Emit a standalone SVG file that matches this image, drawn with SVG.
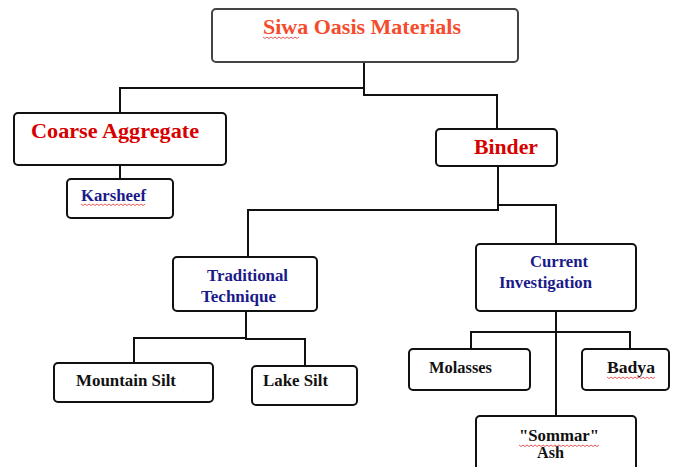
<svg xmlns="http://www.w3.org/2000/svg" width="677" height="467" viewBox="0 0 677 467">
<style>
.box{fill:#fff;stroke:#111;stroke-width:2}
.top{stroke:#444}
.t{font-family:"Liberation Serif","Times New Roman",serif;font-weight:bold}
.red{fill:#d60000;font-size:22px}
.org{fill:#f64b2c;font-size:22px}
.navy{fill:#1a1a8a;font-size:16px}
.blk{fill:#111;font-size:16px}
.conn{fill:none;stroke:#111;stroke-width:2}
.sq{fill:none;stroke:#e03030;stroke-width:0.8}
</style>
<rect width="677" height="467" fill="#fff"/>
<g id="connectors">
<polyline class="conn" points="364,62 364,88 120,88 120,113"/>
<polyline class="conn" points="364,88 364,95 497,95 497,129"/>
<line class="conn" x1="120" y1="165" x2="120" y2="179"/>
<polyline class="conn" points="498,166 498,210 248,210 248,257"/>
<polyline class="conn" points="498,205 556,205 556,244"/>
<polyline class="conn" points="246,311 246,338 134,338 134,363"/>
<polyline class="conn" points="246,338 246,339 305,339 305,366"/>
<line class="conn" x1="556" y1="311" x2="556" y2="416"/>
<polyline class="conn" points="471,349 471,332 630,332 630,349"/>
</g>
<g id="siwa">
<rect class="box top" x="212" y="9" width="306" height="53" rx="4"/>
<text class="t org" x="263" y="34" textLength="198" lengthAdjust="spacingAndGlyphs">Siwa Oasis Materials</text>
<path class="sq" d="M263,37 l2,1.5 l2,-1.5 l2,1.5 l2,-1.5 l2,1.5 l2,-1.5 l2,1.5 l2,-1.5 l2,1.5 l2,-1.5 l2,1.5 l2,-1.5 l2,1.5 l2,-1.5 l2,1.5 l2,-1.5 l2,1.5 l2,-1.5"/>
</g>
<g id="coarse">
<rect class="box" x="14" y="113" width="212" height="52" rx="4"/>
<text class="t red" x="31" y="138" textLength="168" lengthAdjust="spacingAndGlyphs">Coarse Aggregate</text>
</g>
<g id="karsheef">
<rect class="box" x="67" y="179" width="106" height="39" rx="4"/>
<text class="t navy" x="81" y="201" textLength="65" lengthAdjust="spacingAndGlyphs">Karsheef</text>
<path class="sq" d="M81,204 l2,1.5 l2,-1.5 l2,1.5 l2,-1.5 l2,1.5 l2,-1.5 l2,1.5 l2,-1.5 l2,1.5 l2,-1.5 l2,1.5 l2,-1.5 l2,1.5 l2,-1.5 l2,1.5 l2,-1.5 l2,1.5 l2,-1.5 l2,1.5 l2,-1.5 l2,1.5 l2,-1.5 l2,1.5 l2,-1.5 l2,1.5 l2,-1.5 l2,1.5 l2,-1.5 l2,1.5 l2,-1.5 l2,1.5 l2,-1.5"/>
</g>
<g id="binder">
<rect class="box" x="436" y="129" width="121" height="37" rx="4"/>
<text class="t red" x="474" y="154" textLength="64" lengthAdjust="spacingAndGlyphs">Binder</text>
</g>
<g id="traditional">
<rect class="box" x="173" y="257" width="144" height="54" rx="4"/>
<text class="t navy" x="207" y="281" textLength="81" lengthAdjust="spacingAndGlyphs">Traditional</text>
<text class="t navy" x="201" y="302" textLength="75" lengthAdjust="spacingAndGlyphs">Technique</text>
</g>
<g id="current">
<rect class="box" x="476" y="244" width="160" height="67" rx="4"/>
<text class="t navy" x="530" y="267" textLength="58" lengthAdjust="spacingAndGlyphs">Current</text>
<text class="t navy" x="499" y="288" textLength="93" lengthAdjust="spacingAndGlyphs">Investigation</text>
</g>
<g id="mountain">
<rect class="box" x="54" y="363" width="159" height="39" rx="4"/>
<text class="t blk" x="76" y="386" textLength="100" lengthAdjust="spacingAndGlyphs">Mountain Silt</text>
</g>
<g id="lake">
<rect class="box" x="252" y="366" width="105" height="39" rx="4"/>
<text class="t blk" x="263" y="386" textLength="65" lengthAdjust="spacingAndGlyphs">Lake Silt</text>
</g>
<g id="molasses">
<rect class="box" x="409" y="349" width="121" height="41" rx="4"/>
<text class="t blk" x="429" y="373" textLength="63" lengthAdjust="spacingAndGlyphs">Molasses</text>
</g>
<g id="badya">
<rect class="box" x="582" y="349" width="87" height="41" rx="4"/>
<text class="t blk" x="607" y="373" textLength="48" lengthAdjust="spacingAndGlyphs">Badya</text>
<path class="sq" d="M607,377 l2,1.5 l2,-1.5 l2,1.5 l2,-1.5 l2,1.5 l2,-1.5 l2,1.5 l2,-1.5 l2,1.5 l2,-1.5 l2,1.5 l2,-1.5 l2,1.5 l2,-1.5 l2,1.5 l2,-1.5 l2,1.5 l2,-1.5 l2,1.5 l2,-1.5 l2,1.5 l2,-1.5 l2,1.5 l2,-1.5"/>
</g>
<g id="sommar">
<rect class="box" x="476" y="416" width="160" height="60" rx="4"/>
<text class="t blk" x="519" y="441" textLength="80" lengthAdjust="spacingAndGlyphs">"Sommar"</text>
<text class="t blk" x="537" y="458" textLength="27" lengthAdjust="spacingAndGlyphs">Ash</text>
<path class="sq" d="M519,445 l2,1.5 l2,-1.5 l2,1.5 l2,-1.5 l2,1.5 l2,-1.5 l2,1.5 l2,-1.5 l2,1.5 l2,-1.5 l2,1.5 l2,-1.5 l2,1.5 l2,-1.5 l2,1.5 l2,-1.5 l2,1.5 l2,-1.5 l2,1.5 l2,-1.5 l2,1.5 l2,-1.5 l2,1.5 l2,-1.5 l2,1.5 l2,-1.5 l2,1.5 l2,-1.5 l2,1.5 l2,-1.5 l2,1.5 l2,-1.5 l2,1.5 l2,-1.5 l2,1.5 l2,-1.5 l2,1.5 l2,-1.5 l2,1.5 l2,-1.5"/>
</g>
</svg>
